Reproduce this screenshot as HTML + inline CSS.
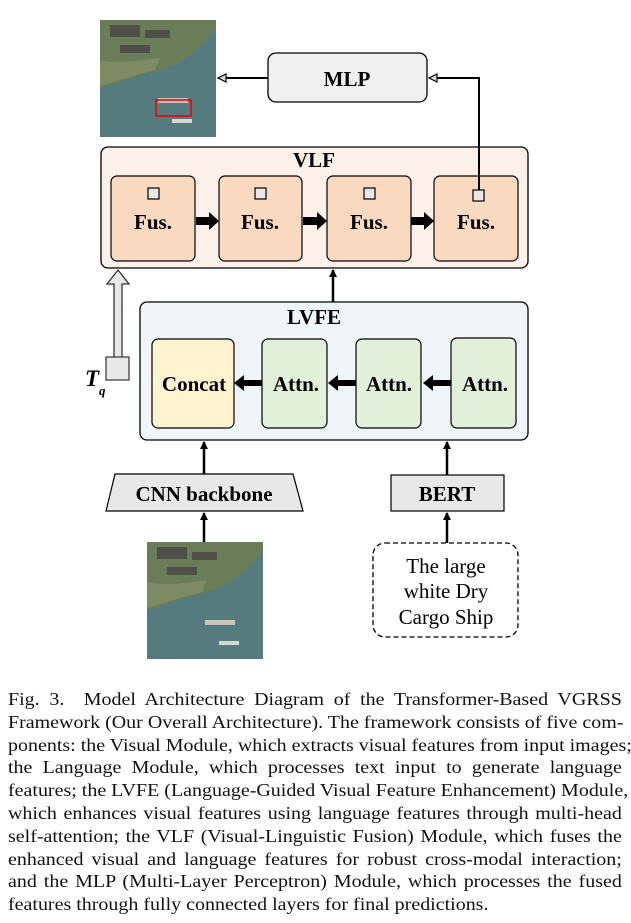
<!DOCTYPE html>
<html><head><meta charset="utf-8"><style>
body{margin:0;background:#fff;width:631px;height:923px;overflow:hidden;position:relative;font-family:"Liberation Serif",serif}
.cap{position:absolute;left:8px;width:553px;top:688px;font-size:18px;line-height:22.8px;color:#111;transform:scaleX(1.11);transform-origin:0 0}
.cap div{text-align:justify;text-align-last:justify;white-space:nowrap}
.cap div.l{text-align-last:left}
</style></head><body>
<svg width="631" height="680" style="position:absolute;left:0;top:0" font-family="Liberation Serif, serif" font-weight="bold">
<defs>
<marker id="ah" markerWidth="8" markerHeight="8" refX="7" refY="4" orient="auto" markerUnits="userSpaceOnUse"><path d="M0,0 L8,4 L0,8 z" fill="#000"/></marker>
<marker id="ahw" markerWidth="10" markerHeight="10" refX="9" refY="5" orient="auto" markerUnits="userSpaceOnUse"><path d="M1,1 L9,5 L1,9 z" fill="#ddd" stroke="#000" stroke-width="1.2"/></marker>
<g id="img">
<rect width="116" height="117" fill="#557b7e"/>
<path d="M0,0 H116 V8 C100,30 80,45 60,50 C40,55 20,62 0,68 Z" fill="#6b7d58"/>
<path d="M10,5 h30 v12 h-30z M45,10 h25 v8 h-25z M20,25 h30 v8 h-30z" fill="#4d4f48"/>
<path d="M0,40 C20,45 40,40 60,38 L55,50 C35,55 15,62 0,66Z" fill="#7d8a63"/>
<rect x="58" y="78" width="30" height="5" fill="#c9c3b8"/>
<rect x="72" y="99" width="20" height="4" fill="#d9d6d0"/>
</g>
</defs>
<use href="#img" x="100" y="20"/>
<rect x="156" y="100" width="35" height="16" fill="none" stroke="#e00" stroke-width="1.5"/>
<rect x="268" y="53" width="159" height="49" rx="8" fill="#f0f0f0" stroke="#000" stroke-width="1.3"/>
<text x="347" y="86" font-size="21" text-anchor="middle">MLP</text>
<line x1="268" y1="78" x2="218" y2="78" stroke="#000" stroke-width="2" marker-end="url(#ahw)"/>
<rect x="101" y="147" width="427" height="121" rx="7" fill="#fcf0ea" stroke="#000" stroke-width="1.3"/>
<text x="314" y="167" font-size="21" text-anchor="middle">VLF</text>
<g fill="#f9d9c0" stroke="#000" stroke-width="1.2">
<rect x="111" y="176" width="84" height="85" rx="6"/>
<rect x="219" y="176" width="83" height="85" rx="6"/>
<rect x="327" y="176" width="84" height="85" rx="6"/>
<rect x="434" y="176" width="84" height="85" rx="6"/>
</g>
<polyline points="479,190 479,78 429,78" fill="none" stroke="#000" stroke-width="2" marker-end="url(#ahw)"/>
<g fill="#e8e8e8" stroke="#000" stroke-width="1.2">
<rect x="148" y="188" width="11" height="11"/><rect x="255" y="188" width="11" height="11"/>
<rect x="364" y="188" width="11" height="11"/><rect x="473" y="190" width="11" height="11"/>
</g>
<g font-size="21" text-anchor="middle">
<text x="153" y="229">Fus.</text><text x="260" y="229">Fus.</text><text x="369" y="229">Fus.</text><text x="476" y="229">Fus.</text>
</g>
<g fill="#000">
<path d="M196,217 h13 v-5 l10,9 -10,9 v-5 h-13z"/>
<path d="M303,217 h14 v-5 l10,9 -10,9 v-5 h-14z"/>
<path d="M411,217 h13 v-5 l10,9 -10,9 v-5 h-13z"/>
</g>
<line x1="333" y1="302" x2="333" y2="270" stroke="#000" stroke-width="2.5" marker-end="url(#ah)"/>
<path d="M114,357 V284 H107 L118,270 L129,284 H122 V357" fill="#e8e8e8" stroke="#333" stroke-width="1.3"/>
<rect x="106" y="357" width="23" height="23" fill="#e8e8e8" stroke="#333" stroke-width="1.2"/>
<text x="85" y="386" font-size="23" font-style="italic">T</text>
<text x="99" y="395" font-size="13" font-style="italic">q</text>
<rect x="140" y="302" width="388" height="138" rx="7" fill="#f0f5fa" stroke="#000" stroke-width="1.3"/>
<text x="314" y="324" font-size="21" text-anchor="middle">LVFE</text>
<rect x="152" y="339" width="82" height="89" rx="6" fill="#fff3d0" stroke="#000" stroke-width="1.2"/>
<g fill="#e2efd9" stroke="#000" stroke-width="1.2">
<rect x="262" y="339" width="65" height="89" rx="6"/>
<rect x="356" y="339" width="65" height="89" rx="6"/>
<rect x="451" y="338" width="65" height="90" rx="6"/>
</g>
<g font-size="21" text-anchor="middle">
<text x="194" y="391">Concat</text><text x="296" y="391">Attn.</text><text x="389" y="391">Attn.</text><text x="485" y="391">Attn.</text>
</g>
<g fill="#000">
<path d="M262,380 h-18 v-5 l-10,8 10,8 v-5 h18z"/>
<path d="M356,380 h-18 v-5 l-10,8 10,8 v-5 h18z"/>
<path d="M451,380 h-18 v-5 l-10,8 10,8 v-5 h18z"/>
</g>
<line x1="204" y1="474" x2="204" y2="442" stroke="#000" stroke-width="2.5" marker-end="url(#ah)"/>
<line x1="447" y1="475" x2="447" y2="442" stroke="#000" stroke-width="2.5" marker-end="url(#ah)"/>
<path d="M115,474 H293 L303,511 H106 Z" fill="#e8e8e8" stroke="#000" stroke-width="1.2"/>
<text x="204" y="501" font-size="21" text-anchor="middle">CNN backbone</text>
<rect x="391" y="475" width="113" height="36" fill="#e8e8e8" stroke="#000" stroke-width="1.2"/>
<text x="447" y="501" font-size="21" text-anchor="middle">BERT</text>
<line x1="204" y1="542" x2="204" y2="513" stroke="#000" stroke-width="2.5" marker-end="url(#ah)"/>
<line x1="447" y1="543" x2="447" y2="513" stroke="#000" stroke-width="2.5" marker-end="url(#ah)"/>
<use href="#img" x="147" y="542"/>
<rect x="373" y="543" width="145" height="94" rx="12" fill="#fff" stroke="#000" stroke-width="1.3" stroke-dasharray="5,3"/>
<g font-size="21" font-weight="normal" text-anchor="middle">
<text x="446" y="573">The large</text><text x="446" y="598">white Dry</text><text x="446" y="624">Cargo Ship</text>
</g>
</svg>
<div class="cap">
<div>Fig. 3. &nbsp;Model Architecture Diagram of the Transformer-Based VGRSS</div>
<div>Framework (Our Overall Architecture). The framework consists of five com-</div>
<div>ponents: the Visual Module, which extracts visual features from input images;</div>
<div>the Language Module, which processes text input to generate language</div>
<div>features; the LVFE (Language-Guided Visual Feature Enhancement) Module,</div>
<div>which enhances visual features using language features through multi-head</div>
<div>self-attention; the VLF (Visual-Linguistic Fusion) Module, which fuses the</div>
<div>enhanced visual and language features for robust cross-modal interaction;</div>
<div>and the MLP (Multi-Layer Perceptron) Module, which processes the fused</div>
<div class="l">features through fully connected layers for final predictions.</div>
</div>
</body></html>
